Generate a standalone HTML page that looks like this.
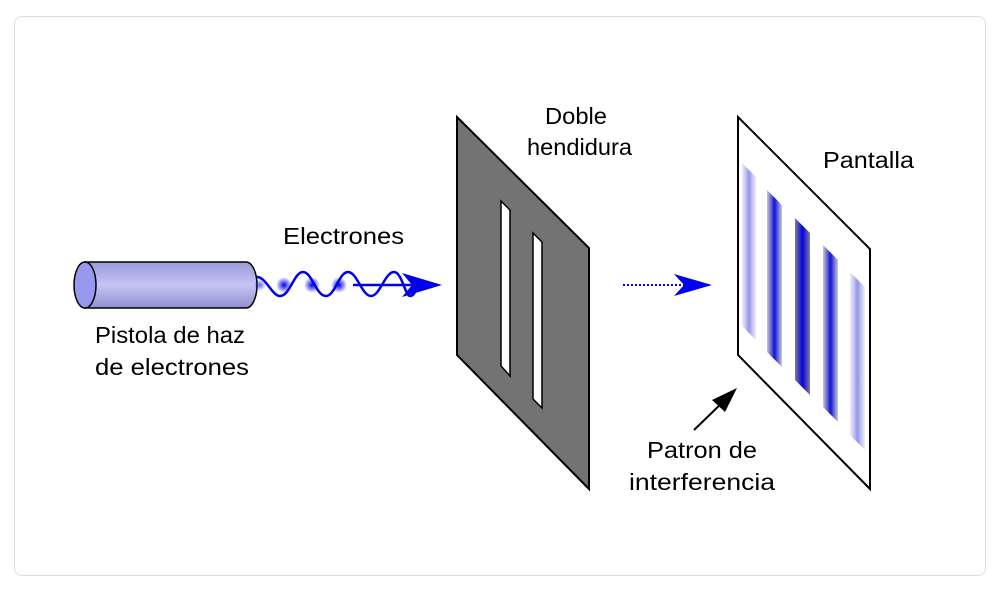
<!DOCTYPE html>
<html><head><style>
html,body{margin:0;padding:0;background:#fff;}
body{width:1000px;height:589px;position:relative;overflow:hidden;font-family:"Liberation Sans",sans-serif;}
.card{position:absolute;left:14px;top:16px;width:970px;height:558px;border:1px solid #dcdcdc;border-radius:8px;background:#fff;}
</style></head><body>
<div class="card"></div>
<svg width="1000" height="589" style="position:absolute;left:0;top:0" font-family="Liberation Sans, sans-serif" font-size="23" fill="#000">
<defs>
<linearGradient id="cyl" x1="0" y1="0" x2="0" y2="1">
<stop offset="0" stop-color="#9a9ad8"/><stop offset="0.5" stop-color="#c4c4f6"/><stop offset="1" stop-color="#9090d0"/>
</linearGradient>
<radialGradient id="dot"><stop offset="0" stop-color="#0000ee"/><stop offset="1" stop-color="#0000ee" stop-opacity="0"/></radialGradient>
<linearGradient id="s1" x1="0" x2="1"><stop offset="0" stop-color="#8888e0" stop-opacity="0.15"/><stop offset="0.5" stop-color="#7070e0" stop-opacity="0.75"/><stop offset="1" stop-color="#8888e0" stop-opacity="0.15"/></linearGradient>
<linearGradient id="s2" x1="0" x2="1"><stop offset="0" stop-color="#202090" stop-opacity="0.25"/><stop offset="0.5" stop-color="#1010e0"/><stop offset="1" stop-color="#202090" stop-opacity="0.25"/></linearGradient>
<linearGradient id="s3" x1="0" x2="1"><stop offset="0" stop-color="#101060" stop-opacity="0.55"/><stop offset="0.5" stop-color="#0000e8"/><stop offset="1" stop-color="#101060" stop-opacity="0.55"/></linearGradient>
</defs>
<path d="M85,262 L246,262 A11,23 0 0 1 246,308 L85,308 Z" fill="url(#cyl)" stroke="#000" stroke-width="1.5"/>
<ellipse cx="85" cy="285" rx="11" ry="23" fill="#9898ee" stroke="#000" stroke-width="1.5"/>
<path d="M257,277 C266,277 272,296 280,296 C290,296 294,272 303,272 C312,272 316,296 326,296 C335,296 339,272 348,272 C357,272 362,296 371,296 C380,296 385,272 394,272 C402,272 405,296 410,296 C414,296 414,292 417,290" fill="none" stroke="#0000ee" stroke-width="2.5"/>
<line x1="353" y1="285" x2="420" y2="285" stroke="#0000ee" stroke-width="2.5"/>
<path d="M442,285 L402,273 L412,285 L402,297 Z" fill="#0000ee"/>
<circle cx="284" cy="285" r="8" fill="url(#dot)"/>
<circle cx="312" cy="285" r="8" fill="url(#dot)"/>
<circle cx="339" cy="285" r="8" fill="url(#dot)"/>
<circle cx="260" cy="285" r="6" fill="url(#dot)" opacity="0.6"/>
<path d="M457,117 L589,248 L589,489 L457,355 Z" fill="#737373" stroke="#000" stroke-width="2"/>
<path d="M501,201 L510,210 L510,376 L501,366 Z" fill="#fff" stroke="#000" stroke-width="1.5"/>
<path d="M533,233 L542,242 L542,408 L533,399 Z" fill="#fff" stroke="#000" stroke-width="1.5"/>
<line x1="623" y1="285" x2="690" y2="285" stroke="#0000ee" stroke-width="2" stroke-dasharray="2,2"/>
<path d="M712,285 L674,274 L684,285 L674,296 Z" fill="#0000ee"/>
<path d="M738,117 L870,249 L870,489 L738,355 Z" fill="#fff" stroke="#000" stroke-width="2"/>
<path d="M742,163 L756,177 L756,340 L742,326 Z" fill="url(#s1)"/>
<path d="M767,190 L782,205 L782,367 L767,352 Z" fill="url(#s2)"/>
<path d="M795,218 L810,233 L810,395 L795,380 Z" fill="url(#s3)"/>
<path d="M823,245 L838,260 L838,422 L823,407 Z" fill="url(#s2)"/>
<path d="M850,272 L865,287 L865,450 L850,435 Z" fill="url(#s1)"/>
<line x1="694" y1="430" x2="725" y2="400" stroke="#000" stroke-width="2"/>
<path d="M737,388 L712,400 L725,412 Z" fill="#000"/>
<text x="283" y="244" textLength="121" lengthAdjust="spacingAndGlyphs">Electrones</text>
<text x="95" y="343" textLength="150" lengthAdjust="spacingAndGlyphs">Pistola de haz</text>
<text x="95" y="375" textLength="154" lengthAdjust="spacingAndGlyphs">de electrones</text>
<text x="545" y="124" textLength="62" lengthAdjust="spacingAndGlyphs">Doble</text>
<text x="527" y="155" textLength="105" lengthAdjust="spacingAndGlyphs">hendidura</text>
<text x="823" y="168" textLength="91" lengthAdjust="spacingAndGlyphs">Pantalla</text>
<text x="647" y="458" textLength="110" lengthAdjust="spacingAndGlyphs">Patron de</text>
<text x="629" y="490" textLength="146" lengthAdjust="spacingAndGlyphs">interferencia</text>
</svg>
</body></html>
